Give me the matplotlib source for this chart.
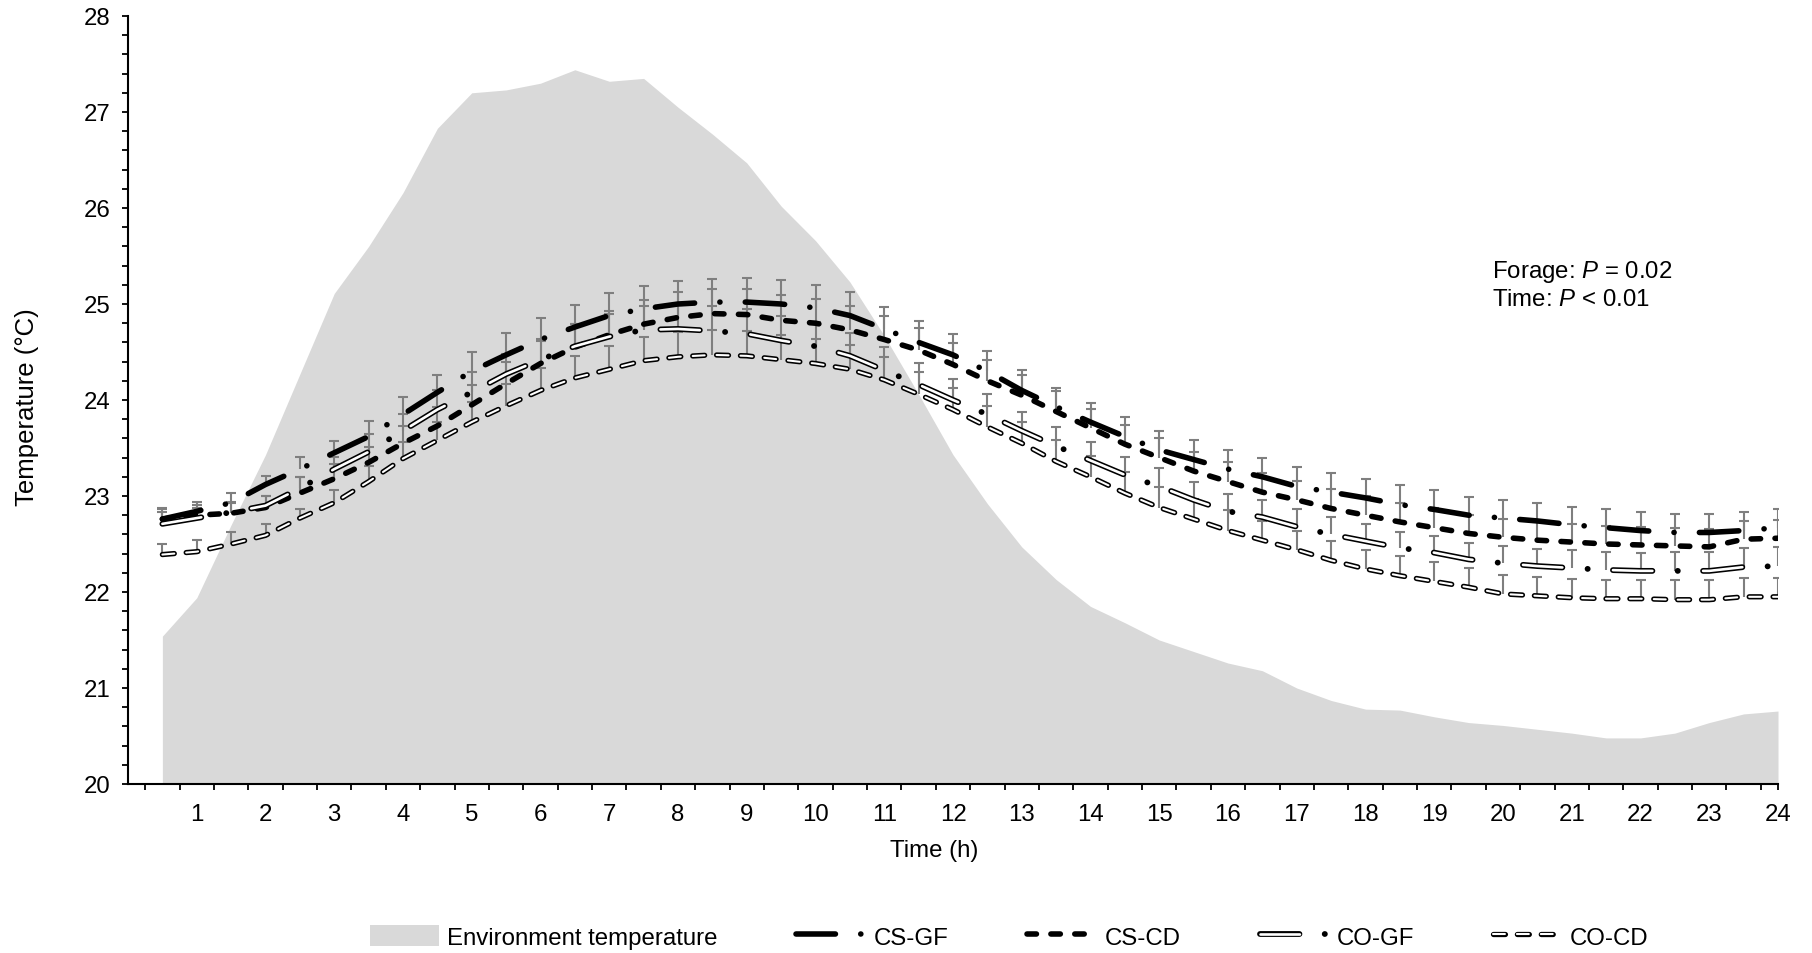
import matplotlib.pyplot as plt
import numpy as np
from matplotlib.patches import Patch

plt.rcParams['font.family'] = ['Liberation Sans', 'DejaVu Sans']
plt.rcParams['mathtext.fontset'] = 'custom'
plt.rcParams['mathtext.rm'] = 'Liberation Sans'
plt.rcParams['mathtext.it'] = 'Liberation Sans:italic'
plt.rcParams['lines.scale_dashes'] = False

# data (half-hourly means)
hours = [0.5, 1, 1.5, 2, 2.5, 3, 3.5, 4,
         4.5, 5, 5.5, 6, 6.5, 7, 7.5, 8,
         8.5, 9, 9.5, 10, 10.5, 11, 11.5, 12,
         12.5, 13, 13.5, 14, 14.5, 15, 15.5, 16,
         16.5, 17, 17.5, 18, 18.5, 19, 19.5, 20,
         20.5, 21, 21.5, 22, 22.5, 23, 23.5, 24]

env_temp = [21.54, 21.94, 22.70, 23.43, 24.27, 25.11, 25.60, 26.16,
            26.83, 27.20, 27.23, 27.30, 27.44, 27.32, 27.35, 27.05,
            26.77, 26.47, 26.02, 25.66, 25.23, 24.67, 24.06, 23.43,
            22.92, 22.47, 22.13, 21.85, 21.68, 21.50, 21.38, 21.26,
            21.18, 21.00, 20.87, 20.78, 20.77, 20.70, 20.64, 20.61,
            20.57, 20.53, 20.48, 20.48, 20.53, 20.64, 20.73, 20.76]

cs_gf = [22.76, 22.84, 22.93, 23.12, 23.28, 23.45, 23.62, 23.85,
         24.08, 24.30, 24.47, 24.63, 24.76, 24.88, 24.95, 25.00,
         25.02, 25.02, 25.00, 24.96, 24.88, 24.74, 24.60, 24.47,
         24.30, 24.10, 23.93, 23.77, 23.62, 23.48, 23.38, 23.28,
         23.20, 23.10, 23.04, 22.98, 22.91, 22.86, 22.80, 22.77,
         22.74, 22.70, 22.67, 22.64, 22.62, 22.62, 22.64, 22.67]

cs_cd = [22.76, 22.80, 22.82, 22.88, 23.03, 23.18, 23.35, 23.55,
         23.73, 23.95, 24.17, 24.38, 24.55, 24.68, 24.79, 24.86,
         24.90, 24.89, 24.83, 24.80, 24.73, 24.63, 24.52, 24.37,
         24.20, 24.05, 23.88, 23.71, 23.54, 23.40, 23.26, 23.15,
         23.04, 22.96, 22.87, 22.80, 22.73, 22.67, 22.61, 22.57,
         22.54, 22.52, 22.50, 22.49, 22.48, 22.47, 22.55, 22.56]

co_gf = [22.71, 22.77, 22.83, 22.90, 23.08, 23.28, 23.46, 23.68,
         23.90, 24.08, 24.27, 24.42, 24.56, 24.66, 24.73, 24.74,
         24.72, 24.69, 24.62, 24.56, 24.46, 24.31, 24.16, 24.00,
         23.85, 23.68, 23.52, 23.37, 23.22, 23.10, 22.96, 22.84,
         22.78, 22.68, 22.60, 22.53, 22.46, 22.41, 22.34, 22.30,
         22.27, 22.25, 22.23, 22.22, 22.22, 22.22, 22.26, 22.27]

co_cd = [22.39, 22.42, 22.50, 22.59, 22.77, 22.93, 23.15, 23.39,
         23.58, 23.77, 23.94, 24.10, 24.23, 24.32, 24.41, 24.45,
         24.47, 24.46, 24.42, 24.38, 24.32, 24.21, 24.06, 23.90,
         23.72, 23.55, 23.36, 23.20, 23.03, 22.88, 22.76, 22.64,
         22.54, 22.44, 22.33, 22.24, 22.17, 22.11, 22.05, 21.98,
         21.96, 21.94, 21.93, 21.93, 21.92, 21.92, 21.95, 21.95]

# upper standard errors
cs_gf_err = [0.11, 0.10, 0.10, 0.09, 0.13, 0.12, 0.16, 0.18,
             0.18, 0.20, 0.23, 0.22, 0.23, 0.23, 0.24, 0.24,
             0.24, 0.25, 0.25, 0.24, 0.24, 0.23, 0.22, 0.22,
             0.21, 0.21, 0.20, 0.20, 0.20, 0.20, 0.20, 0.20,
             0.20, 0.20, 0.20, 0.20, 0.20, 0.20, 0.19, 0.19,
             0.19, 0.19, 0.19, 0.19, 0.19, 0.19, 0.19, 0.19]
cs_cd_err = [0.10, 0.11, 0.12, 0.12, 0.17, 0.15, 0.16, 0.18,
             0.20, 0.21, 0.23, 0.23, 0.24, 0.25, 0.25, 0.26,
             0.26, 0.27, 0.26, 0.25, 0.25, 0.24, 0.23, 0.22,
             0.22, 0.21, 0.21, 0.20, 0.20, 0.20, 0.20, 0.20,
             0.20, 0.20, 0.20, 0.20, 0.20, 0.20, 0.19, 0.19,
             0.19, 0.19, 0.19, 0.19, 0.19, 0.19, 0.19, 0.19]
co_gf_err = [0.12, 0.11, 0.10, 0.10, 0.12, 0.13, 0.19, 0.17,
             0.20, 0.21, 0.21, 0.22, 0.23, 0.24, 0.25, 0.25,
             0.26, 0.26, 0.26, 0.25, 0.24, 0.24, 0.23, 0.22,
             0.21, 0.20, 0.20, 0.19, 0.19, 0.19, 0.19, 0.18,
             0.18, 0.18, 0.18, 0.18, 0.17, 0.17, 0.17, 0.18,
             0.18, 0.19, 0.19, 0.19, 0.20, 0.20, 0.20, 0.20]
co_cd_err = [0.11, 0.12, 0.12, 0.12, 0.09, 0.13, 0.16, 0.17,
             0.19, 0.21, 0.23, 0.23, 0.23, 0.24, 0.25, 0.26,
             0.26, 0.26, 0.26, 0.26, 0.25, 0.24, 0.23, 0.23,
             0.22, 0.22, 0.22, 0.22, 0.22, 0.21, 0.21, 0.21,
             0.20, 0.20, 0.20, 0.20, 0.20, 0.20, 0.20, 0.20,
             0.20, 0.20, 0.20, 0.20, 0.20, 0.20, 0.20, 0.20]

FS = 17.3
fig = plt.figure(figsize=(18.12, 9.54), dpi=100)
ax = fig.add_axes([128 / 1812, 1 - 785 / 954, 1650 / 1812, 768 / 954])

ax.fill_between(hours, 20, env_temp, color='#d9d9d9', lw=0, zorder=1)

# error bars (upper only)
for vals, err in [(cs_gf, cs_gf_err), (cs_cd, cs_cd_err), (co_gf, co_gf_err), (co_cd, co_cd_err)]:
    top = np.array(vals) + np.array(err)
    ax.vlines(hours, vals, top, color='#7f7f7f', lw=1.5, zorder=2)
    ax.plot(hours, top, ls='none', marker='_', ms=7.5, mew=1.5, color='#7f7f7f', zorder=2)

# dash patterns in points (dpi 100)
gf_dash = (28.4, 18.2, 0.1, 18.2)
gf_dash_in = (28.4, 36.5)
cd_dash = (6.8, 10.4)
cocd_dash = (8.6, 8.6)

kw = dict(dash_capstyle='round', solid_capstyle='round', dash_joinstyle='round')
l_csgf, = ax.plot(hours, cs_gf, color='black', lw=4.0, ls=(0, gf_dash), zorder=5, **kw)
l_cscd, = ax.plot(hours, cs_cd, color='black', lw=4.0, ls=(0, cd_dash), zorder=4, **kw)
l_cogf_o, = ax.plot(hours, co_gf, color='black', lw=4.2, ls=(0, gf_dash), zorder=6, **kw)
l_cogf_i, = ax.plot(hours, co_gf, color='white', lw=1.9, ls=(0, gf_dash_in), zorder=6.1, **kw)
l_cocd_o, = ax.plot(hours, co_cd, color='black', lw=3.8, ls=(0, cocd_dash), zorder=3, **kw)
l_cocd_i, = ax.plot(hours, co_cd, color='white', lw=1.5, ls=(0, cocd_dash), zorder=3.1, **kw)

ax.set_xlim(0, 24)
ax.set_ylim(20, 28)
for s in ['top', 'right']:
    ax.spines[s].set_visible(False)
for s in ['left', 'bottom']:
    ax.spines[s].set_linewidth(1.5)

ax.xaxis.remove_overlapping_locs = False
ax.set_xticks(list(np.arange(0.25, 24, 0.5)) + [24])
ax.set_xticklabels([])
ax.set_xticks(range(1, 25), minor=True)
ax.set_xticklabels([str(i) for i in range(1, 25)], minor=True, fontsize=FS)
ax.tick_params(axis='x', which='major', length=4.5, width=1.3, direction='out')
ax.tick_params(axis='x', which='minor', length=0, pad=14)

ax.set_yticks(range(20, 29))
ax.set_yticklabels([str(i) for i in range(20, 29)], fontsize=FS)
ax.set_yticks(np.arange(20, 28.01, 0.2), minor=True)
ax.tick_params(axis='y', which='both', length=4.5, width=1.3, direction='out', pad=8)

fig.text(934 / 1812, 1 - 851 / 954, 'Time (h)', ha='center', va='center', fontsize=FS)
fig.text(27 / 1812, 1 - 407 / 954, 'Temperature (°C)', ha='center', va='center',
         rotation=90, fontsize=18.5)

fig.text(1492 / 1812, 1 - 278 / 954, 'Forage: $P$ = 0.02', fontsize=FS, va='baseline')
fig.text(1492 / 1812, 1 - 306 / 954, 'Time: $P$ < 0.01', fontsize=FS, va='baseline')

handles = [Patch(facecolor='#d9d9d9', edgecolor='none'), l_csgf, l_cscd,
           (l_cogf_o, l_cogf_i), (l_cocd_o, l_cocd_i)]
labels = ['Environment temperature', 'CS-GF', 'CS-CD', 'CO-GF', 'CO-CD']
fig.legend(handles, labels, loc='center', bbox_to_anchor=(0.557, 0.017), ncol=5,
           frameon=False, fontsize=FS, handlelength=2.9, handleheight=1.0,
           handletextpad=0.3, columnspacing=3.3)

fig.savefig('out.png', dpi=100)
